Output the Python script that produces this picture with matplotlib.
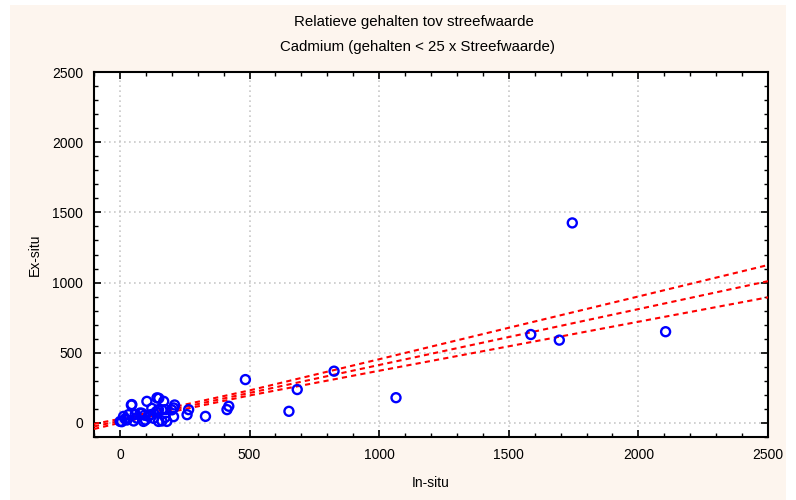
import numpy as np
import matplotlib
matplotlib.use("Agg")
import matplotlib.pyplot as plt
from matplotlib.patches import Rectangle
from matplotlib.ticker import MultipleLocator

plt.rcParams['font.family'] = ['Liberation Sans', 'DejaVu Sans']

# scatter points (In-situ, Ex-situ)
in_situ = [1, 14, 33, 46, 78, 91, 104, 110, 143, 149, 149, 169, 175, 181, 207,
           259, 265, 330, 413, 420, 484, 652, 684, 826, 1065, 1585, 1695, 1745, 2105,
           7, 27, 53, 98, 130, 162, 59, 85, 44, 123, 162, 200, 150, 211, 207, 120,
           20, 65, 140, 175, 95]
ex_situ = [11, 47, 59, 131, 71, 11, 154, 47, 179, 95, 11, 154, 95, 11, 107,
           59, 95, 47, 95, 119, 309, 83, 238, 369, 180, 630, 590, 1425, 650,
           9, 21, 14, 21, 33, 14, 61, 69, 128, 104, 93, 93, 176, 128, 45, 60,
           30, 35, 80, 40, 55]

fit_x = [-100, 0, 500, 1000, 1500, 2000, 2500]
fit_mid = [-25, 15, 214, 413, 612, 811, 1010]
fit_up = [-7, 29, 232, 454, 678, 901, 1125]
fit_lo = [-43, 1, 196, 372, 546, 721, 895]

fig = plt.figure(figsize=(7.96, 5.0), dpi=100)
fig.patch.set_facecolor('white')
fig.patches.append(Rectangle((10 / 796, 0), 776 / 796, 495 / 500, transform=fig.transFigure,
                             facecolor='#fdf5ee', edgecolor='none', zorder=-10))

ax = fig.add_axes([94 / 796, 1 - 437 / 500, 674 / 796, 365 / 500])
ax.set_facecolor('white')

ax.grid(True, color='#c8c8c8', linestyle=(0, (1, 2)), linewidth=1.2)
ax.set_axisbelow(True)

for ys in (fit_up, fit_mid, fit_lo):
    ax.plot(fit_x, ys, color='#ff0000', linestyle=(0, (2.5, 2)), linewidth=1.5, zorder=3)

ax.scatter(in_situ, ex_situ, s=42, facecolors='none', edgecolors='#0000ff',
           linewidths=1.7, zorder=4)

ax.set_xlim(-100, 2500)
ax.set_ylim(-100, 2500)
ax.xaxis.set_major_locator(MultipleLocator(500))
ax.yaxis.set_major_locator(MultipleLocator(500))
ax.xaxis.set_minor_locator(MultipleLocator(100))
ax.yaxis.set_minor_locator(MultipleLocator(100))
ax.tick_params(which='both', direction='in', top=True, right=True, colors='black',
               labelsize=10)
ax.tick_params(which='major', length=5, width=1.2, pad=8)
ax.tick_params(which='minor', length=3, width=1.0)
for sp in ax.spines.values():
    sp.set_linewidth(1.5)

ax.set_xlabel('In-situ', fontsize=10, labelpad=10)
ax.set_ylabel('Ex-situ', fontsize=10, labelpad=7)

fig.text(414 / 796, 1 - 22 / 500, 'Relatieve gehalten tov streefwaarde',
         ha='center', va='center', fontsize=10.8)
fig.text(418 / 796, 1 - 47 / 500, 'Cadmium (gehalten < 25 x Streefwaarde)',
         ha='center', va='center', fontsize=10.8)

fig.savefig('out.png', dpi=100)
